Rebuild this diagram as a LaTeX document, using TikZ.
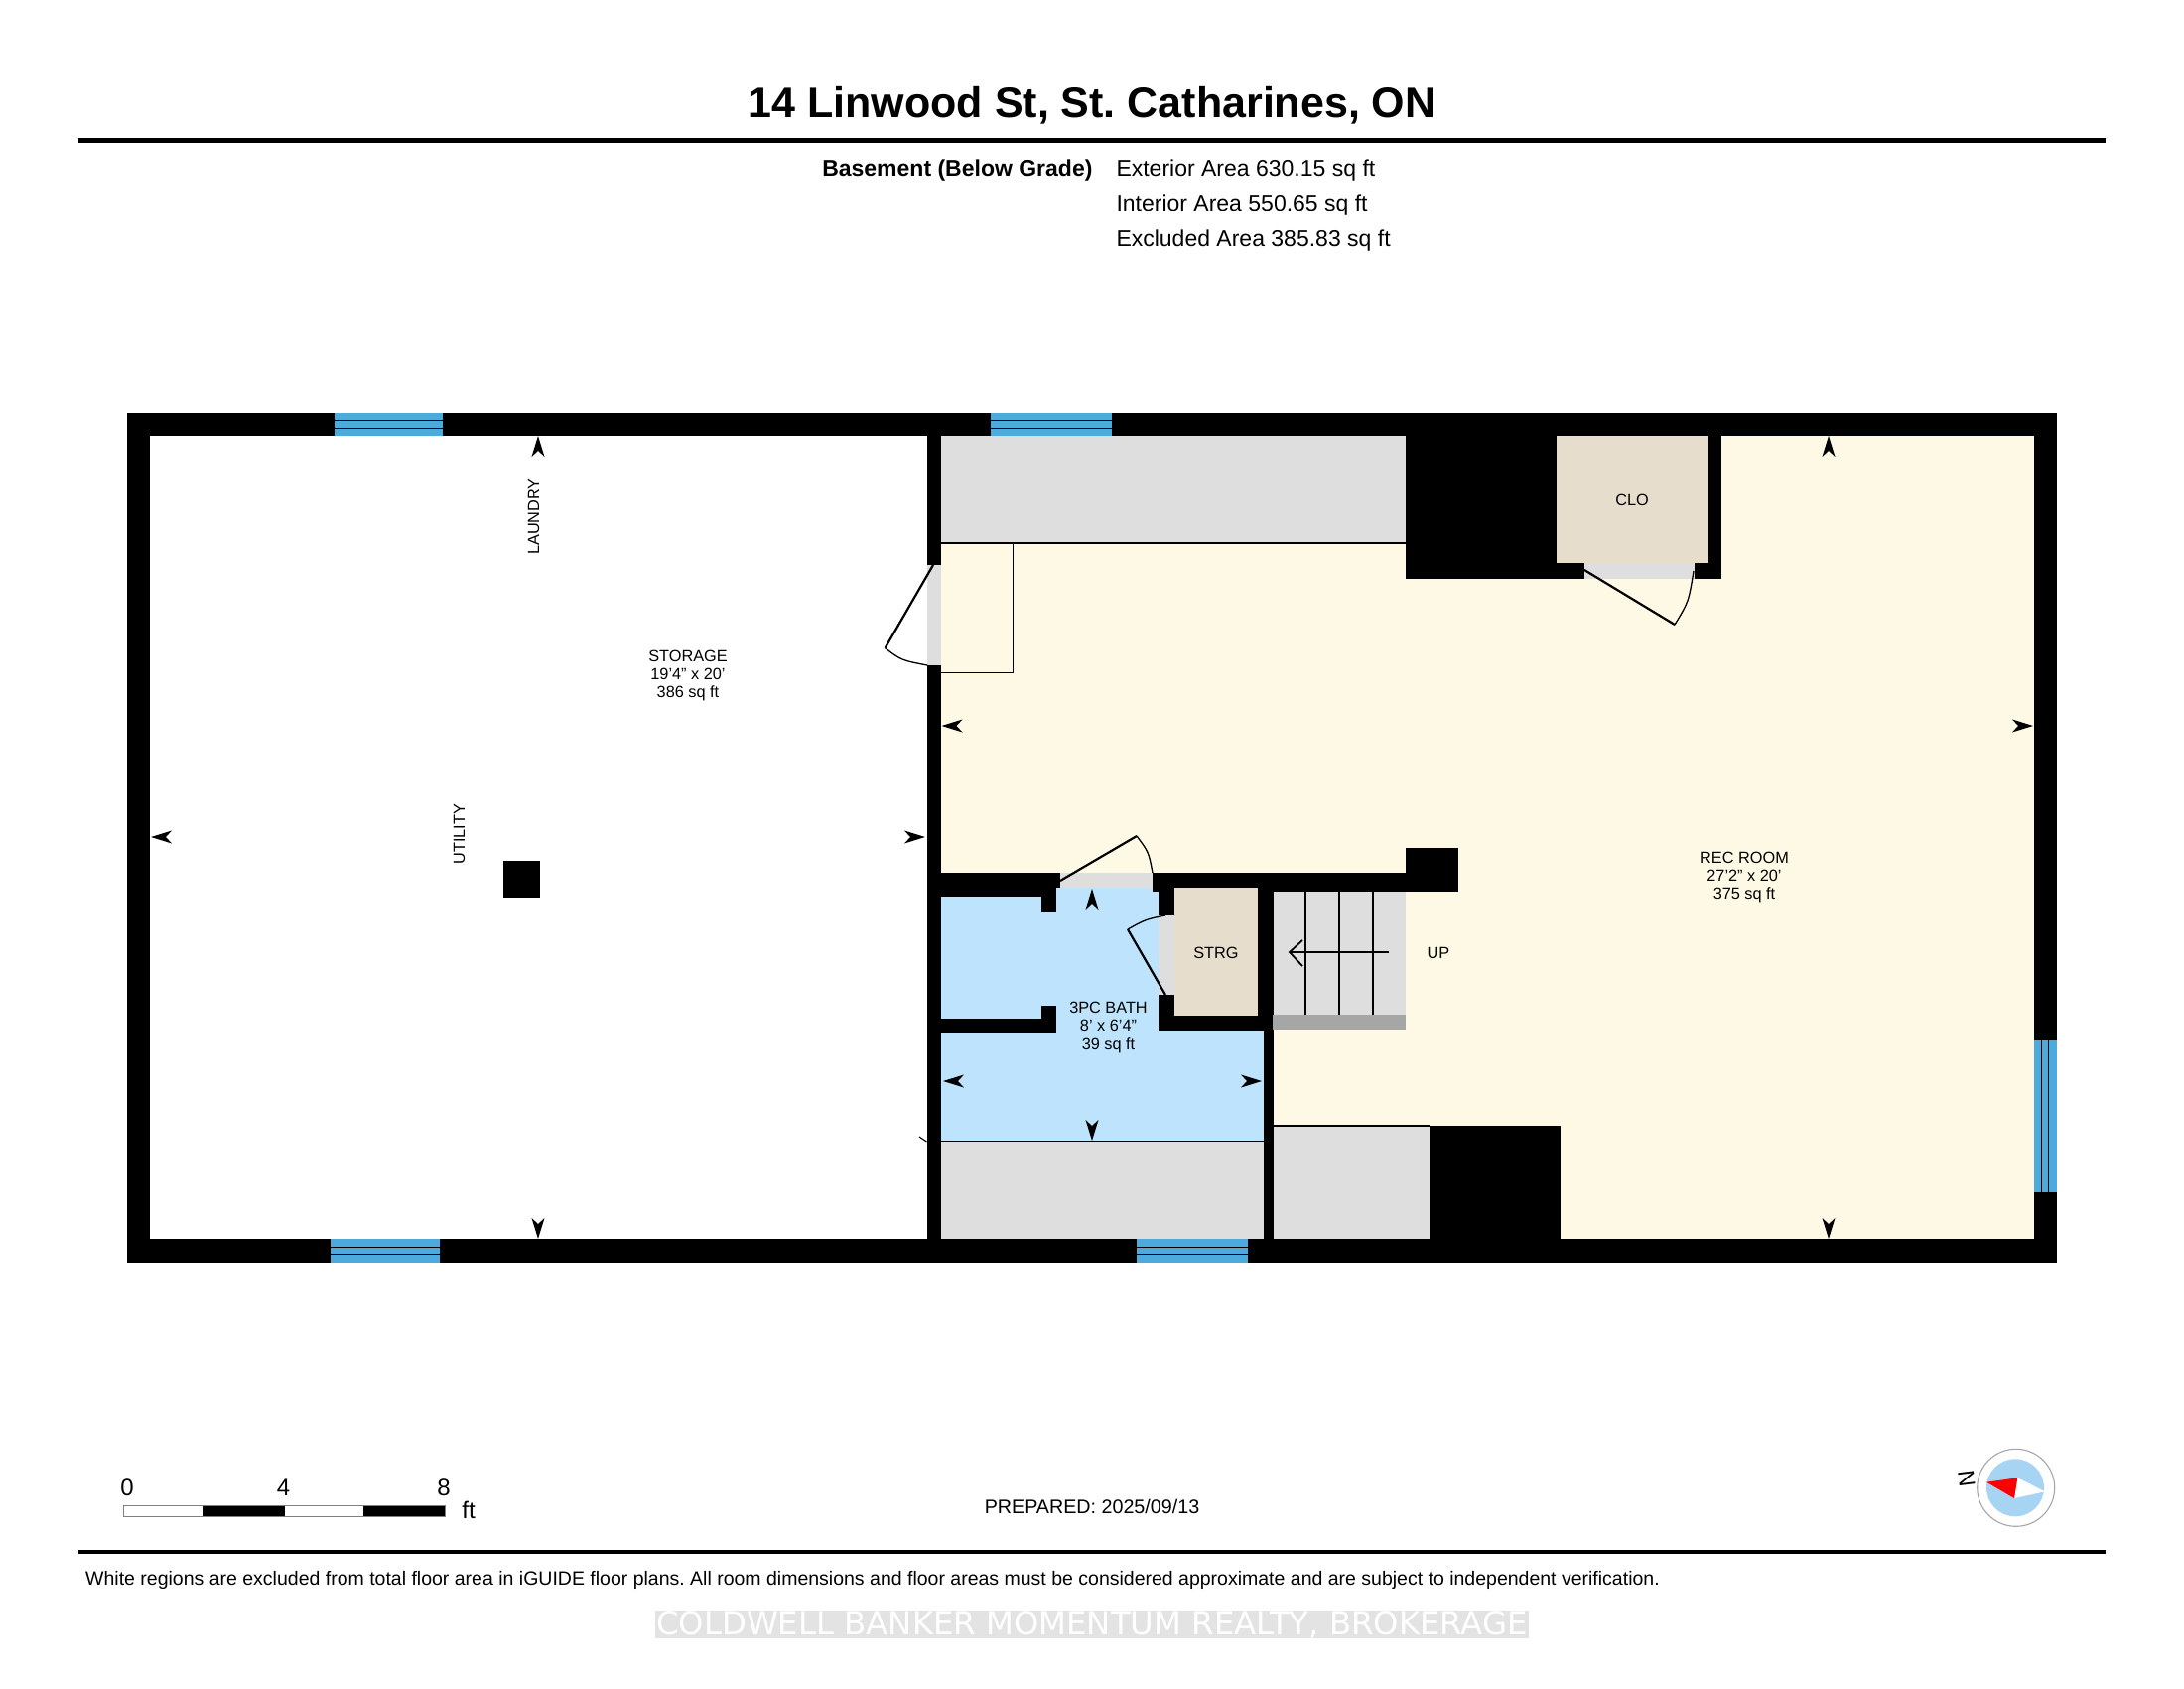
\documentclass[tikz,border=0pt]{standalone}
\usepackage{fontspec}
\setmainfont{Liberation Sans}[Ligatures=ResetAll]
\newfontfamily\markfont{DejaVu Sans}
\definecolor{recyellow}{HTML}{FEF9E5}
\definecolor{bathblue}{HTML}{BEE3FC}
\definecolor{closettan}{HTML}{E6DDCD}
\definecolor{slabgray}{HTML}{DEDEDE}
\definecolor{stepgray}{HTML}{A6A6A6}
\definecolor{glassblue}{HTML}{4EA9DC}
\definecolor{dialblue}{HTML}{A8D4F4}
\tikzset{
  wall/.style={fill=black},
  leaf/.style={draw=black,line width=2.2pt},
  swing/.style={draw=black,line width=1.3pt},
  thinline/.style={draw=black,line width=1.6pt},
  roomlabel/.style={inner sep=0,align=center,font=\fontsize{16.3}{18}\selectfont},
  infotext/.style={inner sep=0,font=\fontsize{23}{25}\selectfont},
  scaletext/.style={inner sep=0,anchor=base,font=\fontsize{24}{26}\selectfont}
}
\newcommand{\dimmark}[3]{\fill[black,shift={(#1,#2)},rotate=#3] (0,0) -- (-21,6.5) -- (-15,0) -- (-21,-6.5) -- cycle;}
\frenchspacing
\begin{document}
\begin{tikzpicture}[x=1pt,y=-1pt]
\useasboundingbox (0,0) rectangle (2200,1700);
\fill[white] (0,0) rectangle (2200,1700);
\node[inner sep=0,anchor=base,font=\bfseries\fontsize{43}{46}\selectfont] (title) at (1100,118) {14 Linwood St, St. Catharines, ON};
\draw[line width=4.2pt] (78.5,141.5) -- (2121,141.5);
\node[infotext,anchor=base east,font=\bfseries\fontsize{23}{25}\selectfont] (level) at (1100.7,177.5) {Basement (Below Grade)};
\node[infotext,anchor=base west] (exterior) at (1124.3,177.5) {Exterior Area 630.15 sq ft};
\node[infotext,anchor=base west] (interior) at (1124.3,212.8) {Interior Area 550.65 sq ft};
\node[infotext,anchor=base west] (excluded) at (1124.3,248) {Excluded Area 385.83 sq ft};
% floors
\fill[recyellow] (948,439) rectangle (2048.5,1247.5);
\fill[slabgray] (948,439) rectangle (1416,547);
\fill[bathblue] (948,894) rectangle (1272.6,1149);
\fill[slabgray] (948,1149) rectangle (1272.6,1247.5);
\fill[slabgray] (1283,1134) rectangle (1440,1247.5);
% outer walls
\fill[wall] (128,415.5) rectangle (2072,439);
\fill[wall] (128,1248) rectangle (2072,1271.5);
\fill[wall] (128,415.5) rectangle (151,1271.5);
\fill[wall] (2048.5,415.5) rectangle (2072,1271.5);
% inner walls
\fill[wall] (933.5,439) rectangle (948,569);
\fill[wall] (933.5,670) rectangle (948,1248);
\fill[wall] (1416,439) rectangle (1734,582.5);
\fill[closettan] (1568,439) rectangle (1720.7,567);
\fill[wall] (506.7,867) rectangle (543.7,904);
\fill[wall] (933.5,879) rectangle (1068,894);
\fill[wall] (933.5,894) rectangle (1064,903);
\fill[wall] (1048.5,903) rectangle (1064,917.5);
\fill[wall] (933.5,1026) rectangle (1064,1040);
\fill[wall] (1048.5,1013) rectangle (1064,1026);
\fill[wall] (1161,879) rectangle (1468.6,898);
\fill[wall] (1416,854) rectangle (1468.6,898);
\fill[wall] (1167.4,879) rectangle (1182.6,922);
\fill[wall] (1167.4,1002) rectangle (1182.6,1038);
\fill[wall] (1267,894) rectangle (1283,1038);
\fill[wall] (1167.4,1023) rectangle (1283,1038);
\fill[wall] (1272.6,1038) rectangle (1283,1248);
\fill[wall] (1440,1134) rectangle (1571.5,1248);
\fill[closettan] (1182.6,894) rectangle (1267,1023);
% door openings
\fill[slabgray] (933.5,569) rectangle (948,670);
\fill[slabgray] (1068,879) rectangle (1161,894);
\fill[slabgray] (1167.4,922) rectangle (1182.6,1002);
\fill[slabgray] (1596,567) rectangle (1707,582.5);
\draw[leaf] (940,569) -- (891.6,652.7);
\draw[swing] (891.6,652.7) .. controls (908,665) .. (934,670);
\draw[leaf] (1068,887) -- (1145,842);
\draw[swing] (1145,842) .. controls (1157,858) .. (1161,879);
\draw[leaf] (1174,1002) -- (1136,936);
\draw[swing] (1136,936) .. controls (1154,926) .. (1174,922);
\draw[leaf] (1596,574) -- (1687,629);
\draw[swing] (1687,629) .. controls (1701,606) .. (1706,575);
% stairs
\fill[slabgray] (1283,898) rectangle (1416,1022);
\fill[stepgray] (1282,1022) rectangle (1416,1037);
\foreach \x in {1315,1349,1383}
  \draw[thinline] (\x,898) -- (\x,1022);
\draw[leaf,line width=1.8pt] (1399,959) -- (1299,959);
\draw[leaf,line width=1.8pt] (1312,947) -- (1299,959) -- (1312,973);
% thin lines
\draw[thinline] (948,547) -- (1416,547);
\draw[thinline,line width=1.1pt] (948,677.7) -- (1020.7,677.7) -- (1020.7,547);
\draw[thinline] (948,1149.5) -- (1272.6,1149.5);
\draw[thinline] (1283,1134) -- (1440,1134);
\draw[thinline,line width=1.1pt] (926,1145) -- (933.5,1150);
% windows
\foreach \xa/\xb/\ya in {337/446/415.5,998/1119.5/415.5,332.7/443.3/1248,1145/1257.4/1248} {
  \fill[glassblue] (\xa,\ya) rectangle (\xb,\ya+23.5);
  \draw[black,line width=1pt] (\xa,\ya+8) -- (\xb,\ya+8);
  \draw[black,line width=1pt] (\xa,\ya+15.5) -- (\xb,\ya+15.5);
}
\fill[glassblue] (2048.5,1047) rectangle (2072,1199.6);
\foreach \x in {2056,2063.7}
  \draw[black,line width=1pt] (\x,1047) -- (\x,1199.6);
% dimension marks
\dimmark{542}{439}{90}
\dimmark{542}{1248}{-90}
\dimmark{152}{843}{180}
\dimmark{932}{843}{0}
\dimmark{948.5}{731}{180}
\dimmark{2048}{731}{0}
\dimmark{1842}{439}{90}
\dimmark{1842}{1248}{-90}
\dimmark{1100}{895}{90}
\dimmark{1100}{1149}{-90}
\dimmark{950}{1089}{180}
\dimmark{1271}{1089}{0}
% room labels
\node[roomlabel] (storage) at (693,680) {STORAGE\\19'4" x 20'\\386 sq ft};
\node[roomlabel,rotate=90] (laundry) at (537.5,520) {LAUNDRY};
\node[roomlabel,rotate=90] (utility) at (462.7,840) {UTILITY};
\node[roomlabel] (bath) at (1116.5,1034) {3PC BATH\\8' x 6'4"\\39 sq ft};
\node[roomlabel] (strg) at (1225,959.5) {STRG};
\node[roomlabel] (up) at (1449,959.5) {UP};
\node[roomlabel] (clo) at (1644,503.5) {CLO};
\node[roomlabel] (rec) at (1757,883) {REC ROOM\\27'2" x 20'\\375 sq ft};
% scale bar
\foreach \xa/\xb/\shade in {124/204/white,204/286.7/black,286.7/366/white,366/448/black}
  \fill[\shade] (\xa,1516) rectangle (\xb,1527);
\draw[gray,line width=1pt] (124,1516) rectangle (448,1527);
\node[scaletext] (zero) at (128,1506.7) {0};
\node[scaletext] (four) at (285.6,1506.7) {4};
\node[scaletext] (eight) at (447,1506.7) {8};
\node[scaletext] (feet) at (472,1529) {ft};
\node[inner sep=0,anchor=base,font=\fontsize{19.7}{22}\selectfont] (prepared) at (1100,1524) {PREPARED: 2025/09/13};
% compass
\draw[black!35,fill=white,line width=1.1pt] (2030.7,1498.3) circle (39);
\fill[dialblue] (2030,1498.3) circle (29);
\fill[white] (2032.3,1488.3) -- (2029,1509) -- (2060,1502.3) -- cycle;
\fill[red] (2001,1492.7) -- (2032.3,1488.3) -- (2029,1509) -- cycle;
\node[inner sep=0,rotate=97,font=\fontsize{23}{25}\selectfont] (north) at (1981,1489) {N};
% footer
\draw[line width=4.2pt] (78.5,1563) -- (2121,1563);
\node[inner sep=0,anchor=base west,font=\fontsize{19.5}{22}\selectfont] (note) at (86,1596) {White regions are excluded from total floor area in iGUIDE floor plans. All room dimensions and floor areas must be considered approximate and are subject to independent verification.};
\fill[black!11] (660,1622) rectangle (1540,1650);
\node[inner sep=0,anchor=base,text=white,font=\markfont\fontsize{32.3}{34}\selectfont] (brokerage) at (1100,1646.5) {COLDWELL BANKER MOMENTUM REALTY, BROKERAGE};
\end{tikzpicture}
\end{document}
